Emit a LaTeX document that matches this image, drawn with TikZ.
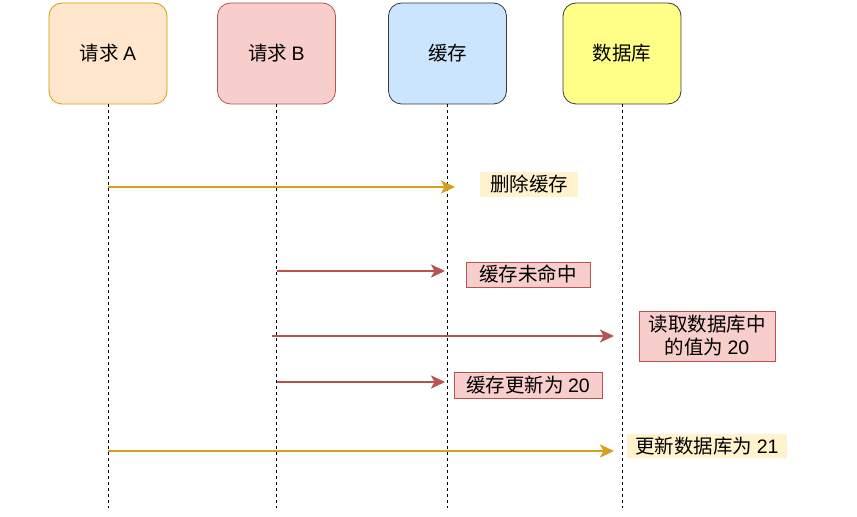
\documentclass[tikz,border=0pt]{standalone}
\usepackage{fontspec}
\setmainfont{Noto Sans CJK SC}
\newfontfamily\lat{Liberation Sans}
\usetikzlibrary{arrows.meta}
\definecolor{aFill}{HTML}{FFE6CC}\definecolor{aStroke}{HTML}{D79B00}
\definecolor{bFill}{HTML}{F8CECC}\definecolor{bStroke}{HTML}{B85450}
\definecolor{cFill}{HTML}{CCE5FF}\definecolor{dFill}{HTML}{FFFF88}
\definecolor{grayStroke}{HTML}{36393D}
\definecolor{noteFill}{HTML}{FFF2CC}
\definecolor{goldArrow}{HTML}{D6A01E}
\tikzset{
  actor/.style={rounded corners=13bp, minimum width=118bp, minimum height=101bp, inner sep=0pt, line width=0.8bp, font=\fontsize{19.5bp}{23bp}\selectfont},
  life/.style={draw=black, line width=1bp, dash pattern=on 3bp off 3bp},
  goldmsg/.style={draw=goldArrow, line width=2bp, -{Stealth[length=14bp,width=13bp,inset=3.5bp]}},
  redmsg/.style={draw=bStroke, line width=2bp, -{Stealth[length=14bp,width=13bp,inset=3.5bp]}},
  note/.style={inner sep=0pt, align=center, font=\fontsize{19.5bp}{23bp}\selectfont},
  rednote/.style={note, fill=bFill, draw=bStroke, line width=0.8bp},
  yelnote/.style={note, fill=noteFill},
}
\begin{document}
\begin{tikzpicture}[x=1bp,y=-1bp]
\path[use as bounding box, fill=white] (0,0) rectangle (857,517);
% actors
\node[actor, fill=aFill, draw=aStroke] (A) at (108,53.5) {请求 {\lat A}};
\node[actor, fill=bFill, draw=bStroke] (B) at (276.5,53.5) {请求 {\lat B}};
\node[actor, fill=cFill, draw=grayStroke] (C) at (447.5,53.5) {缓存};
\node[actor, fill=dFill, draw=grayStroke] (D) at (622,53.5) {数据库};
% lifelines
\coordinate (Aend) at (108,508);
\coordinate (Bend) at (276.5,508);
\coordinate (Cend) at (447.5,508);
\coordinate (Dend) at (622,508);
\draw[life] (A.south) -- (Aend);
\draw[life] (B.south) -- (Bend);
\draw[life] (C.south) -- (Cend);
\draw[life] (D.south) -- (Dend);
% message endpoints
\coordinate (m1s) at (108,187);   \coordinate (m1e) at (455,187);
\coordinate (m2s) at (276.5,271); \coordinate (m2e) at (445,271);
\coordinate (m3s) at (272,336);   \coordinate (m3e) at (614,336);
\coordinate (m4s) at (276.5,382); \coordinate (m4e) at (445,382);
\coordinate (m5s) at (108,451);   \coordinate (m5e) at (614,451);
\draw[goldmsg] (m1s) -- (m1e);
\draw[redmsg] (m2s) -- (m2e);
\draw[redmsg] (m3s) -- (m3e);
\draw[redmsg] (m4s) -- (m4e);
\draw[goldmsg] (m5s) -- (m5e);
% labels
\node[yelnote, minimum width=98bp, minimum height=25bp] (L1) at (529,184.5) {删除缓存};
\node[rednote, minimum width=124bp, minimum height=25bp] (L2) at (528,274.5) {缓存未命中};
\node[rednote, minimum width=136bp, minimum height=50bp] (L3) at (707,336) {读取数据库中\\的值为 {\lat 20}};
\node[rednote, minimum width=148bp, minimum height=26bp] (L4) at (528,385) {缓存更新为 {\lat 20}};
\node[yelnote, minimum width=160bp, minimum height=24bp] (L5) at (707,446) {更新数据库为 {\lat 21}};
\end{tikzpicture}
\end{document}
